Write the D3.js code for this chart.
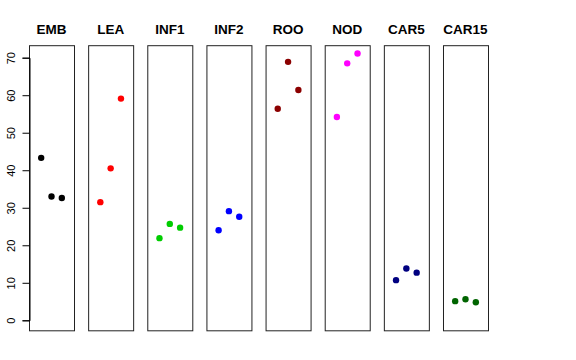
<!DOCTYPE html>
<html>
<head>
<meta charset="utf-8">
<script src="https://cdn.jsdelivr.net/npm/d3@7"></script>
<style>
  html, body { margin: 0; padding: 0; background: #fff; }
  svg { display: block; font-family: "Liberation Sans", Arial, Helvetica, sans-serif; }
</style>
</head>
<body>
<svg id="chart" width="576" height="360"></svg>
<script>
const categories = ["EMB", "LEA", "INF1", "INF2", "ROO", "NOD", "CAR5", "CAR15"];
const colors = ["#000000", "#FF0000", "#00CD00", "#0000FF", "#8B0000", "#FF00FF", "#000080", "#006400"];
const EMB = [43.3, 33.0, 32.6];
const LEA = [31.5, 40.5, 59.1];
const INF1 = [21.9, 25.7, 24.7];
const INF2 = [24.0, 29.1, 27.6];
const ROO = [56.4, 68.9, 61.4];
const NOD = [54.2, 68.5, 71.1];
const CAR5 = [10.7, 13.8, 12.7];
const CAR15 = [5.1, 5.6, 4.8];
const seriesValues = [EMB, LEA, INF1, INF2, ROO, NOD, CAR5, CAR15];
const yTicks = [0, 10, 20, 30, 40, 50, 60, 70];
const yExtent = [-2.8, 73.2];

const svg = d3.select("#chart");

const x = d3.scaleBand().domain(categories).range([29, 488]).paddingInner(0.239).paddingOuter(0);
const xi = d3.scalePoint().domain([1, 2, 3]).range([0, x.bandwidth()]).padding(1.18);
const y = d3.scaleLinear().domain([0, 70]).range([320.3, 57.7]);

const panels = svg.selectAll("g.panel").data(categories).join("g")
  .attr("class", "panel")
  .attr("transform", d => `translate(${x(d)},0)`);

panels.append("rect")
  .attr("x", 0.5)
  .attr("y", y(yExtent[1]))
  .attr("width", x.bandwidth())
  .attr("height", y(yExtent[0]) - y(yExtent[1]))
  .attr("fill", "none")
  .attr("stroke", "#222")
  .attr("stroke-width", 1);

panels.append("text")
  .attr("x", x.bandwidth() / 2)
  .attr("y", 34)
  .attr("text-anchor", "middle")
  .attr("font-weight", "bold")
  .attr("font-size", 13.5)
  .text(d => d);

panels.each(function(cat, i) {
  d3.select(this).selectAll("circle")
    .data(seriesValues[i])
    .join("circle")
    .attr("cx", (v, j) => xi(j + 1))
    .attr("cy", v => y(v))
    .attr("r", 3.2)
    .attr("fill", colors[i]);
});

const axis = svg.append("g")
  .attr("transform", "translate(29.5,0)")
  .call(d3.axisLeft(y).tickValues(yTicks).tickSize(7).tickPadding(4).tickFormat(d3.format("d")));
axis.select(".domain").attr("stroke", "#000");
axis.selectAll(".tick line").attr("stroke", "#000");
axis.selectAll(".tick text")
  .attr("font-size", 11)
  .attr("font-family", "Liberation Sans, Arial, sans-serif")
  .attr("fill", "#000")
  .attr("text-anchor", "middle")
  .attr("x", null)
  .attr("dy", null)
  .attr("transform", "translate(-18.5,0) rotate(-90)")
  .attr("dominant-baseline", "central");
</script>
</body>
</html>
